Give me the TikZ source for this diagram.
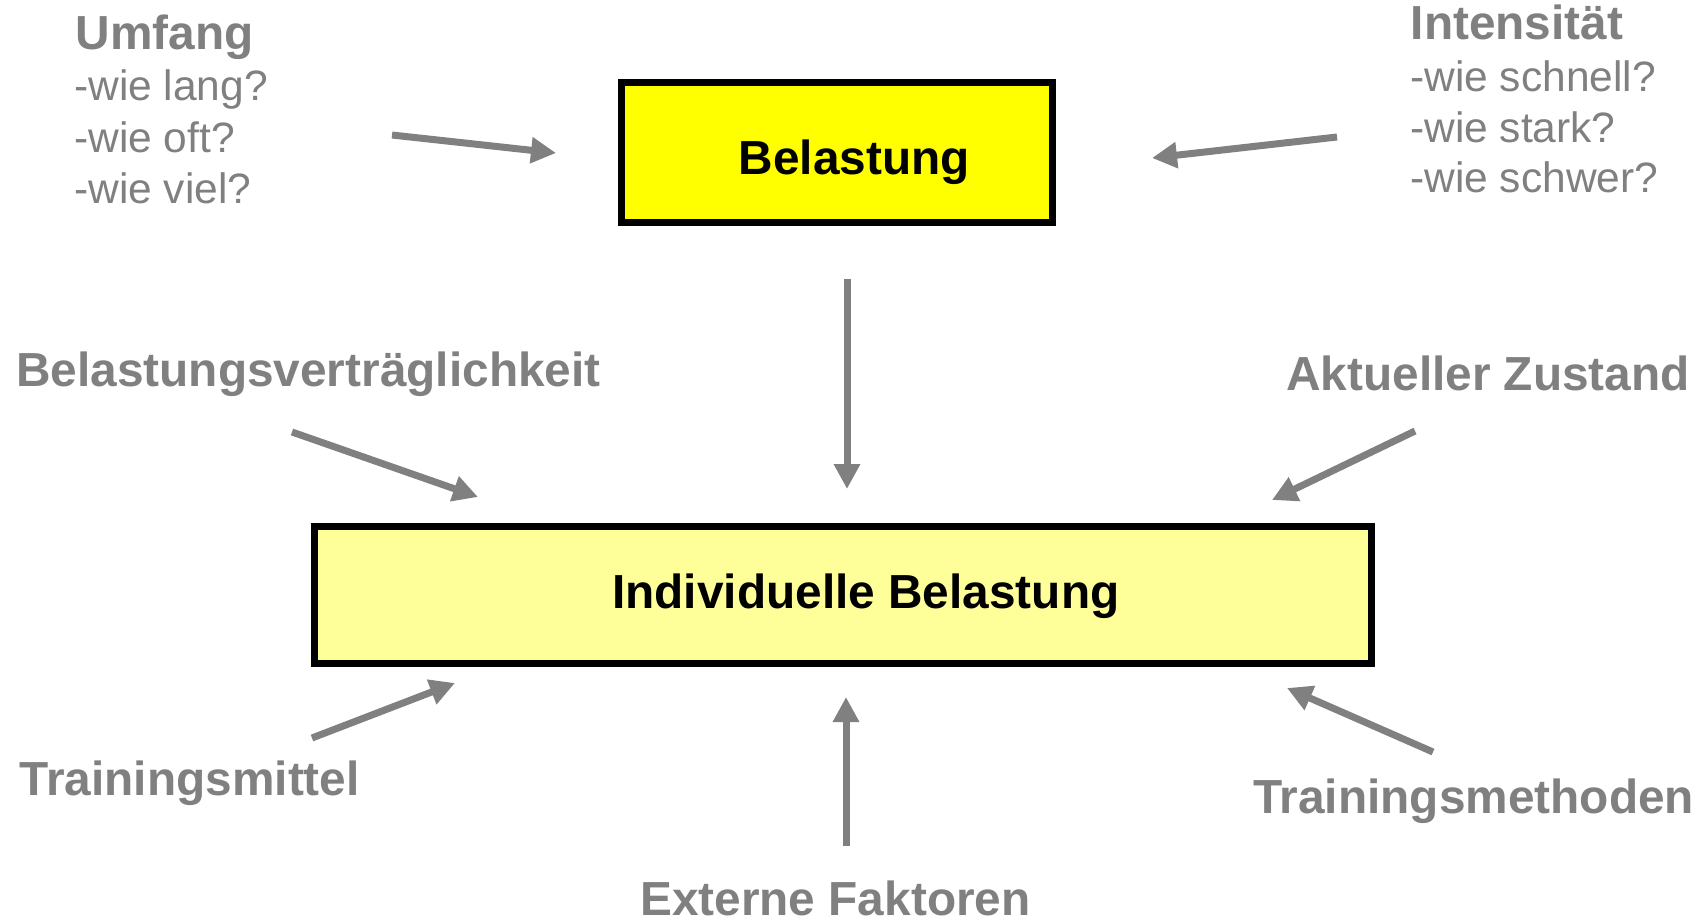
\documentclass[tikz,border=0pt]{standalone}
\usepackage{fontspec}
\setmainfont{Liberation Sans}
\usetikzlibrary{arrows.meta}
\definecolor{txtgray}{HTML}{808080}
\definecolor{boxyellow}{HTML}{FFFF00}
\definecolor{boxpale}{HTML}{FFFF99}
\begin{document}
\begin{tikzpicture}[x=1pt,y=-1pt,
  headtxt/.style={font=\fontsize{47.8}{57}\selectfont\bfseries, text=txtgray, inner sep=0pt, anchor=base west},
  subtxt/.style={font=\fontsize{42.5}{50}\selectfont, text=txtgray, inner sep=0pt, anchor=base west},
  boxtxt/.style={font=\fontsize{47.8}{57}\selectfont\bfseries, text=black, inner sep=0pt, anchor=base west},
  flow/.style={draw=txtgray, line width=7pt, -{Triangle[length=25pt,width=25pt]}},
  frame/.style={draw=black, line width=7pt, inner sep=0pt, anchor=north west}]
\useasboundingbox (0,0) rectangle (1705,919);

% boxes
\node[frame, fill=boxyellow, minimum width=431pt, minimum height=140pt] (bel) at (618,79) {};
\node[boxtxt] (beltxt) at (738.5,174) {Belastung};
\node[frame, fill=boxpale, minimum width=1057pt, minimum height=137pt] (ind) at (311,523) {};
\node[boxtxt] (indtxt) at (612,608) {Individuelle Belastung};

% Umfang
\node[headtxt] (umf) at (75.5,49) {Umfang};
\node[subtxt] (umf1) at (74,100) {-wie lang?};
\node[subtxt] (umf2) at (74,152) {-wie oft?};
\node[subtxt] (umf3) at (74,203) {-wie viel?};

% Intensitaet
\node[headtxt] (int) at (1410.5,39) {Intensität};
\node[subtxt] (int1) at (1410,91) {-wie schnell?};
\node[subtxt] (int2) at (1410,142) {-wie stark?};
\node[subtxt] (int3) at (1410,192) {-wie schwer?};

% other labels
\node[headtxt] (vertr) at (16,386) {Belastungsverträglichkeit};
\node[headtxt] (akt) at (1286,390) {Aktueller Zustand};
\node[headtxt] (tmit) at (19.5,795) {Trainingsmittel};
\node[headtxt] (tmet) at (1253,813) {Trainingsmethoden};
\node[headtxt] (ext) at (640,915) {Externe Faktoren};

% arrow ends
\coordinate (a1s) at (392,135);  \coordinate (a1e) at (556,153);
\coordinate (a2s) at (1337,137); \coordinate (a2e) at (1152,158);
\coordinate (a3s) at (847,279);  \coordinate (a3e) at (847,489);
\coordinate (a4s) at (292,432);  \coordinate (a4e) at (478,497);
\coordinate (a5s) at (1415,431); \coordinate (a5e) at (1272,500);
\coordinate (a6s) at (312,738);  \coordinate (a6e) at (455,683);
\coordinate (a7s) at (846,846);  \coordinate (a7e) at (846,697);
\coordinate (a8s) at (1433,752); \coordinate (a8e) at (1287,688);

\draw[flow] (a1s) -- (a1e);
\draw[flow] (a2s) -- (a2e);
\draw[flow] (a3s) -- (a3e);
\draw[flow] (a4s) -- (a4e);
\draw[flow] (a5s) -- (a5e);
\draw[flow] (a6s) -- (a6e);
\draw[flow] (a7s) -- (a7e);
\draw[flow] (a8s) -- (a8e);
\end{tikzpicture}
\end{document}
